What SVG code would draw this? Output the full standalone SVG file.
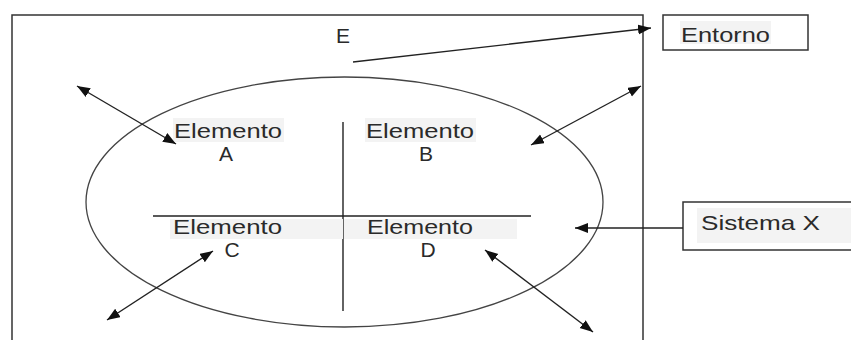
<svg xmlns="http://www.w3.org/2000/svg" width="851" height="340" viewBox="0 0 851 340">
<style>
.ln{stroke:#222;stroke-width:1.4;fill:none}
.t{font-family:"Liberation Sans",Arial,sans-serif;font-size:21px;fill:#2a2a2a}
.bg{fill:#f3f3f3}
.box{fill:#fff;stroke:#333;stroke-width:1.5}
.ar{stroke:#222;stroke-width:1.4;fill:none;marker-end:url(#ah)}
.ar2{stroke:#222;stroke-width:1.4;fill:none;marker-start:url(#ah);marker-end:url(#ah)}
</style>
<defs>
<marker id="ah" markerUnits="userSpaceOnUse" markerWidth="15" markerHeight="11" refX="13" refY="5" orient="auto-start-reverse">
<path d="M0,0 L13,5 L0,10 z" fill="#111"/>
</marker>
</defs>
<rect width="851" height="340" fill="#fff"/>
<g id="entorno-E">
<rect x="12" y="15" width="631" height="340" fill="none" stroke="#333" stroke-width="1.5"/>
<text class="t" x="336" y="43" font-size="22">E</text>
</g>
<g id="sistema-ellipse">
<ellipse cx="344.5" cy="202" rx="258.5" ry="125" fill="none" stroke="#444" stroke-width="1.3"/>
<line class="ln" x1="343" y1="122" x2="343" y2="311"/>
<line class="ln" x1="153" y1="216" x2="531" y2="216"/>
</g>
<g id="elemento-a">
<rect class="bg" x="173" y="118" width="111" height="24"/>
<text class="t" x="174" y="138" textLength="108" lengthAdjust="spacingAndGlyphs">Elemento</text>
<text class="t" x="226" y="161" text-anchor="middle">A</text>
</g>
<g id="elemento-b">
<rect class="bg" x="365" y="118" width="111" height="24"/>
<text class="t" x="366" y="138" textLength="108" lengthAdjust="spacingAndGlyphs">Elemento</text>
<text class="t" x="426" y="161" text-anchor="middle">B</text>
</g>
<g id="elemento-c">
<rect class="bg" x="170" y="219" width="173" height="20"/>
<text class="t" x="173" y="234" textLength="109" lengthAdjust="spacingAndGlyphs">Elemento</text>
<text class="t" x="232" y="257" text-anchor="middle">C</text>
</g>
<g id="elemento-d">
<rect class="bg" x="344" y="219" width="173" height="20"/>
<text class="t" x="367" y="234" textLength="106" lengthAdjust="spacingAndGlyphs">Elemento</text>
<text class="t" x="428" y="257" text-anchor="middle">D</text>
</g>
<g id="entorno-label">
<rect class="box" x="663" y="15" width="145" height="35"/>
<rect class="bg" x="680" y="21" width="91" height="23"/>
<text class="t" x="681" y="42" textLength="89" lengthAdjust="spacingAndGlyphs">Entorno</text>
</g>
<g id="sistema-x-label">
<path d="M851,202 H683 V250 H851" fill="#fff" stroke="#333" stroke-width="1.5"/>
<rect class="bg" x="697" y="208" width="154" height="35"/>
<text class="t" x="701" y="230" textLength="119" lengthAdjust="spacingAndGlyphs">Sistema X</text>
</g>
<g id="connectors">
<line class="ar" x1="353" y1="62" x2="651" y2="28"/>
<line class="ar" x1="683" y1="228" x2="575" y2="228"/>
<line class="ar2" x1="77" y1="86" x2="176" y2="144"/>
<line class="ar2" x1="641" y1="86" x2="531" y2="145"/>
<line class="ar2" x1="213" y1="251" x2="107" y2="320"/>
<line class="ar2" x1="485" y1="250" x2="593" y2="332"/>
</g>
</svg>
